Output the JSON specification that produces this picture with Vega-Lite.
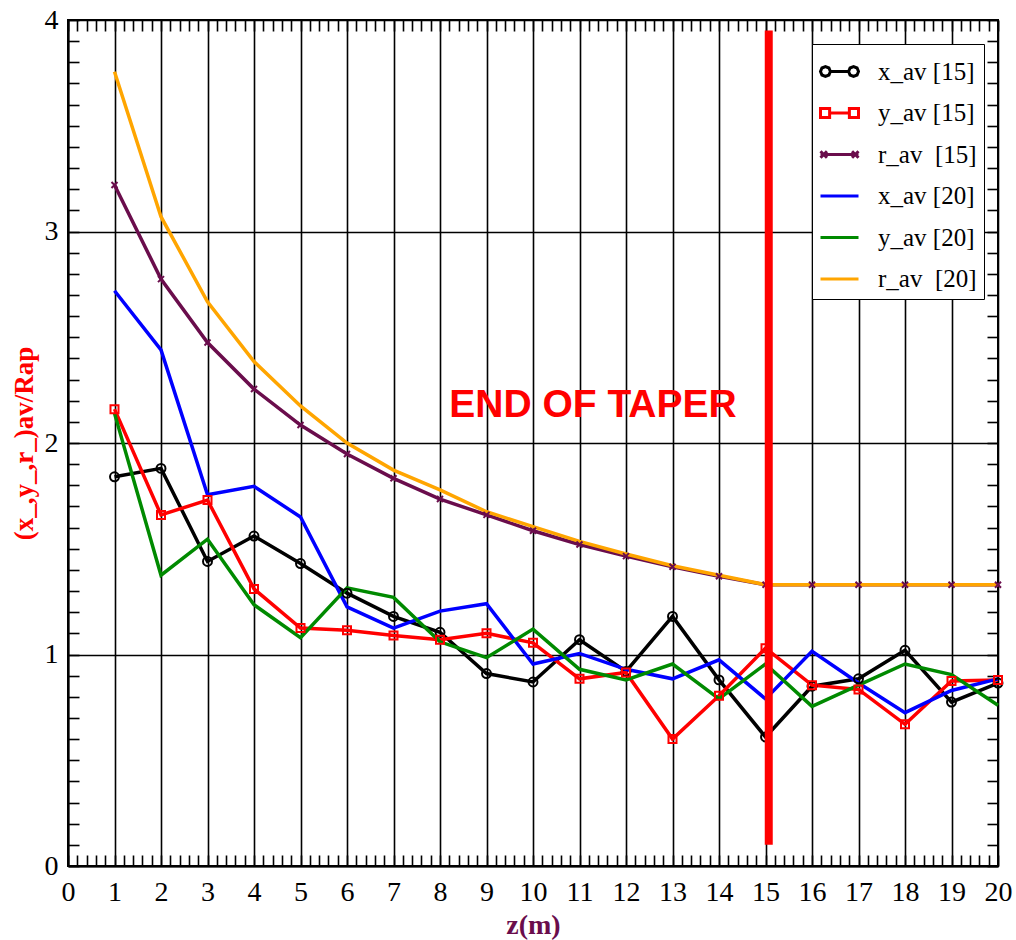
{
  "$schema": "https://vega.github.io/schema/vega-lite/v6.json",
  "width": 930,
  "height": 846,
  "autosize": {"type": "none"},
  "padding": {"left": 68, "top": 20, "right": 18, "bottom": 74},
  "background": "white",
  "config": {
    "view": {"stroke": "black", "strokeWidth": 2},
    "axis": {
      "labelFont": "Liberation Serif",
      "labelFontSize": 28,
      "labelColor": "black",
      "labelOverlap": false,
      "labelFlush": false,
      "tickColor": "black",
      "tickWidth": 1.6,
      "tickSize": -11,
      "domainColor": "black",
      "domainWidth": 2,
      "gridColor": "black",
      "gridWidth": 1.6
    },
    "legend": {
      "orient": "none",
      "legendX": 744,
      "legendY": 24,
      "fillColor": "white",
      "strokeColor": "black",
      "padding": 7,
      "symbolSize": 1444,
      "symbolStrokeWidth": 3,
      "symbolOpacity": 1,
      "labelOffset": 18,
      "rowPadding": 7.5,
      "labelFont": "Liberation Serif",
      "labelFontSize": 25,
      "labelColor": "black"
    }
  },
  "datasets": {
    "series": [
      {"z": 1, "v": 1.84, "s": "x_av [15]"},
      {"z": 2, "v": 1.88, "s": "x_av [15]"},
      {"z": 3, "v": 1.44, "s": "x_av [15]"},
      {"z": 4, "v": 1.56, "s": "x_av [15]"},
      {"z": 5, "v": 1.43, "s": "x_av [15]"},
      {"z": 6, "v": 1.29, "s": "x_av [15]"},
      {"z": 7, "v": 1.18, "s": "x_av [15]"},
      {"z": 8, "v": 1.105, "s": "x_av [15]"},
      {"z": 9, "v": 0.91, "s": "x_av [15]"},
      {"z": 10, "v": 0.87, "s": "x_av [15]"},
      {"z": 11, "v": 1.07, "s": "x_av [15]"},
      {"z": 12, "v": 0.92, "s": "x_av [15]"},
      {"z": 13, "v": 1.18, "s": "x_av [15]"},
      {"z": 14, "v": 0.88, "s": "x_av [15]"},
      {"z": 15, "v": 0.61, "s": "x_av [15]"},
      {"z": 16, "v": 0.85, "s": "x_av [15]"},
      {"z": 17, "v": 0.885, "s": "x_av [15]"},
      {"z": 18, "v": 1.02, "s": "x_av [15]"},
      {"z": 19, "v": 0.775, "s": "x_av [15]"},
      {"z": 20, "v": 0.865, "s": "x_av [15]"},

      {"z": 1, "v": 2.16, "s": "y_av [15]"},
      {"z": 2, "v": 1.66, "s": "y_av [15]"},
      {"z": 3, "v": 1.73, "s": "y_av [15]"},
      {"z": 4, "v": 1.31, "s": "y_av [15]"},
      {"z": 5, "v": 1.125, "s": "y_av [15]"},
      {"z": 6, "v": 1.115, "s": "y_av [15]"},
      {"z": 7, "v": 1.09, "s": "y_av [15]"},
      {"z": 8, "v": 1.07, "s": "y_av [15]"},
      {"z": 9, "v": 1.1, "s": "y_av [15]"},
      {"z": 10, "v": 1.055, "s": "y_av [15]"},
      {"z": 11, "v": 0.885, "s": "y_av [15]"},
      {"z": 12, "v": 0.915, "s": "y_av [15]"},
      {"z": 13, "v": 0.6, "s": "y_av [15]"},
      {"z": 14, "v": 0.805, "s": "y_av [15]"},
      {"z": 15, "v": 1.03, "s": "y_av [15]"},
      {"z": 16, "v": 0.855, "s": "y_av [15]"},
      {"z": 17, "v": 0.835, "s": "y_av [15]"},
      {"z": 18, "v": 0.67, "s": "y_av [15]"},
      {"z": 19, "v": 0.875, "s": "y_av [15]"},
      {"z": 20, "v": 0.88, "s": "y_av [15]"},

      {"z": 1, "v": 3.22, "s": "r_av\u00a0 [15]"},
      {"z": 2, "v": 2.775, "s": "r_av\u00a0 [15]"},
      {"z": 3, "v": 2.475, "s": "r_av\u00a0 [15]"},
      {"z": 4, "v": 2.255, "s": "r_av\u00a0 [15]"},
      {"z": 5, "v": 2.085, "s": "r_av\u00a0 [15]"},
      {"z": 6, "v": 1.948, "s": "r_av\u00a0 [15]"},
      {"z": 7, "v": 1.833, "s": "r_av\u00a0 [15]"},
      {"z": 8, "v": 1.735, "s": "r_av\u00a0 [15]"},
      {"z": 9, "v": 1.66, "s": "r_av\u00a0 [15]"},
      {"z": 10, "v": 1.585, "s": "r_av\u00a0 [15]"},
      {"z": 11, "v": 1.52, "s": "r_av\u00a0 [15]"},
      {"z": 12, "v": 1.465, "s": "r_av\u00a0 [15]"},
      {"z": 13, "v": 1.415, "s": "r_av\u00a0 [15]"},
      {"z": 14, "v": 1.37, "s": "r_av\u00a0 [15]"},
      {"z": 15, "v": 1.33, "s": "r_av\u00a0 [15]"},
      {"z": 16, "v": 1.33, "s": "r_av\u00a0 [15]"},
      {"z": 17, "v": 1.33, "s": "r_av\u00a0 [15]"},
      {"z": 18, "v": 1.33, "s": "r_av\u00a0 [15]"},
      {"z": 19, "v": 1.33, "s": "r_av\u00a0 [15]"},
      {"z": 20, "v": 1.33, "s": "r_av\u00a0 [15]"},

      {"z": 1, "v": 2.72, "s": "x_av [20]"},
      {"z": 2, "v": 2.44, "s": "x_av [20]"},
      {"z": 3, "v": 1.755, "s": "x_av [20]"},
      {"z": 4, "v": 1.795, "s": "x_av [20]"},
      {"z": 5, "v": 1.65, "s": "x_av [20]"},
      {"z": 6, "v": 1.225, "s": "x_av [20]"},
      {"z": 7, "v": 1.125, "s": "x_av [20]"},
      {"z": 8, "v": 1.205, "s": "x_av [20]"},
      {"z": 9, "v": 1.24, "s": "x_av [20]"},
      {"z": 10, "v": 0.955, "s": "x_av [20]"},
      {"z": 11, "v": 1.005, "s": "x_av [20]"},
      {"z": 12, "v": 0.93, "s": "x_av [20]"},
      {"z": 13, "v": 0.885, "s": "x_av [20]"},
      {"z": 14, "v": 0.975, "s": "x_av [20]"},
      {"z": 15, "v": 0.79, "s": "x_av [20]"},
      {"z": 16, "v": 1.015, "s": "x_av [20]"},
      {"z": 17, "v": 0.865, "s": "x_av [20]"},
      {"z": 18, "v": 0.725, "s": "x_av [20]"},
      {"z": 19, "v": 0.83, "s": "x_av [20]"},
      {"z": 20, "v": 0.885, "s": "x_av [20]"},

      {"z": 1, "v": 2.14, "s": "y_av [20]"},
      {"z": 2, "v": 1.375, "s": "y_av [20]"},
      {"z": 3, "v": 1.545, "s": "y_av [20]"},
      {"z": 4, "v": 1.235, "s": "y_av [20]"},
      {"z": 5, "v": 1.08, "s": "y_av [20]"},
      {"z": 6, "v": 1.315, "s": "y_av [20]"},
      {"z": 7, "v": 1.27, "s": "y_av [20]"},
      {"z": 8, "v": 1.06, "s": "y_av [20]"},
      {"z": 9, "v": 0.985, "s": "y_av [20]"},
      {"z": 10, "v": 1.12, "s": "y_av [20]"},
      {"z": 11, "v": 0.93, "s": "y_av [20]"},
      {"z": 12, "v": 0.88, "s": "y_av [20]"},
      {"z": 13, "v": 0.955, "s": "y_av [20]"},
      {"z": 14, "v": 0.79, "s": "y_av [20]"},
      {"z": 15, "v": 0.955, "s": "y_av [20]"},
      {"z": 16, "v": 0.755, "s": "y_av [20]"},
      {"z": 17, "v": 0.855, "s": "y_av [20]"},
      {"z": 18, "v": 0.955, "s": "y_av [20]"},
      {"z": 19, "v": 0.905, "s": "y_av [20]"},
      {"z": 20, "v": 0.76, "s": "y_av [20]"},

      {"z": 1, "v": 3.755, "s": "r_av\u00a0 [20]"},
      {"z": 2, "v": 3.07, "s": "r_av\u00a0 [20]"},
      {"z": 3, "v": 2.668, "s": "r_av\u00a0 [20]"},
      {"z": 4, "v": 2.385, "s": "r_av\u00a0 [20]"},
      {"z": 5, "v": 2.175, "s": "r_av\u00a0 [20]"},
      {"z": 6, "v": 2.0, "s": "r_av\u00a0 [20]"},
      {"z": 7, "v": 1.872, "s": "r_av\u00a0 [20]"},
      {"z": 8, "v": 1.778, "s": "r_av\u00a0 [20]"},
      {"z": 9, "v": 1.675, "s": "r_av\u00a0 [20]"},
      {"z": 10, "v": 1.605, "s": "r_av\u00a0 [20]"},
      {"z": 11, "v": 1.535, "s": "r_av\u00a0 [20]"},
      {"z": 12, "v": 1.475, "s": "r_av\u00a0 [20]"},
      {"z": 13, "v": 1.42, "s": "r_av\u00a0 [20]"},
      {"z": 14, "v": 1.375, "s": "r_av\u00a0 [20]"},
      {"z": 15, "v": 1.33, "s": "r_av\u00a0 [20]"},
      {"z": 16, "v": 1.33, "s": "r_av\u00a0 [20]"},
      {"z": 17, "v": 1.33, "s": "r_av\u00a0 [20]"},
      {"z": 18, "v": 1.33, "s": "r_av\u00a0 [20]"},
      {"z": 19, "v": 1.33, "s": "r_av\u00a0 [20]"},
      {"z": 20, "v": 1.33, "s": "r_av\u00a0 [20]"}
    ],
    "taper": [
      {"z": 15.07, "lo": 0.1, "hi": 3.95}
    ],
    "note": [
      {"z": 11.29, "v": 2.18, "label": "END OF TAPER"}
    ]
  },
  "resolve": {"axis": {"x": "independent", "y": "independent"}},
  "layer": [
    {
      "data": {"name": "series"},
      "mark": {"type": "line", "strokeWidth": 3.5},
      "encoding": {
        "x": {
          "field": "z", "type": "quantitative",
          "scale": {"domain": [0, 20], "nice": false, "zero": false},
          "axis": {
            "orient": "bottom",
            "tickCount": 100,
            "labelExpr": "datum.value % 1 === 0 ? format(datum.value, 'd') : ''",
            "labelPadding": 23,
            "grid": true,
            "gridOpacity": {"condition": {"test": "datum.value % 1 === 0", "value": 1}, "value": 0},
            "title": "z(m)",
            "titleFont": "Liberation Serif",
            "titleFontSize": 28,
            "titleFontWeight": "bold",
            "titleColor": "#6a0d4c",
            "titlePadding": 5
          }
        },
        "y": {
          "field": "v", "type": "quantitative",
          "scale": {"domain": [0, 4], "nice": false, "zero": false},
          "axis": {
            "orient": "left",
            "tickCount": 40,
            "labelExpr": "datum.value % 1 === 0 ? format(datum.value, 'd') : ''",
            "labelPadding": 21,
            "grid": true,
            "gridOpacity": {"condition": {"test": "datum.value % 1 === 0", "value": 1}, "value": 0},
            "title": "(x_,y_,r_)av/Rap",
            "titleFont": "Liberation Serif",
            "titleFontSize": 27,
            "titleFontWeight": "bold",
            "titleColor": "#ff0000",
            "titlePadding": 6
          }
        },
        "color": {
          "field": "s", "type": "nominal",
          "scale": {
            "domain": ["x_av [15]", "y_av [15]", "r_av\u00a0 [15]", "x_av [20]", "y_av [20]", "r_av\u00a0 [20]"],
            "range": ["#000000", "#ff0000", "#6a0d4c", "#0000ff", "#008a00", "#ffa500"]
          },
          "legend": {"title": null}
        }
      }
    },
    {
      "data": {"name": "series"},
      "transform": [{"filter": "false"}],
      "mark": {"type": "point", "filled": false},
      "encoding": {
        "x": {"field": "z", "type": "quantitative", "scale": {"domain": [0, 20]}, "axis": null},
        "y": {"field": "v", "type": "quantitative", "scale": {"domain": [0, 4]}, "axis": null},
        "color": {"field": "s", "type": "nominal", "legend": {"title": null}},
        "shape": {
          "field": "s", "type": "nominal",
          "scale": {
            "domain": ["x_av [15]", "y_av [15]", "r_av\u00a0 [15]", "x_av [20]", "y_av [20]", "r_av\u00a0 [20]"],
            "range": [
              "M-0.48,0H0.48M-0.48,0L-0.556,0.184L-0.74,0.26L-0.924,0.184L-1,0L-0.924,-0.184L-0.74,-0.26L-0.556,-0.184ZM1,0L0.924,0.184L0.74,0.26L0.556,0.184L0.48,0L0.556,-0.184L0.74,-0.26L0.924,-0.184Z",
              "M-0.52,0H0.52M-1,-0.24H-0.52V0.24H-1ZM0.52,-0.24H1V0.24H0.52Z",
              "M-1,0H1M-1,-0.17L-0.66,0.17M-1,0.17L-0.66,-0.17M0.66,-0.17L1,0.17M0.66,0.17L1,-0.17",
              "M-1,0H1",
              "M-1,0H1",
              "M-1,0H1"
            ]
          },
          "legend": {"title": null}
        }
      }
    },
    {
      "data": {"name": "series"},
      "transform": [{"filter": "datum.s === 'x_av [15]'"}],
      "mark": {"type": "point", "shape": "circle", "filled": false, "color": "#000000", "strokeWidth": 2, "size": 80, "opacity": 1},
      "encoding": {
        "x": {"field": "z", "type": "quantitative", "scale": {"domain": [0, 20]}, "axis": null},
        "y": {"field": "v", "type": "quantitative", "scale": {"domain": [0, 4]}, "axis": null}
      }
    },
    {
      "data": {"name": "series"},
      "transform": [{"filter": "datum.s === 'y_av [15]'"}],
      "mark": {"type": "point", "shape": "square", "filled": false, "color": "#ff0000", "strokeWidth": 2, "size": 64, "opacity": 1},
      "encoding": {
        "x": {"field": "z", "type": "quantitative", "scale": {"domain": [0, 20]}, "axis": null},
        "y": {"field": "v", "type": "quantitative", "scale": {"domain": [0, 4]}, "axis": null}
      }
    },
    {
      "data": {"name": "series"},
      "transform": [{"filter": "indexof(datum.s, 'r_av') === 0 && indexof(datum.s, '15') > 0"}],
      "mark": {"type": "point", "shape": "M-1,-1L1,1M-1,1L1,-1", "filled": false, "color": "#6a0d4c", "strokeWidth": 2, "size": 36, "opacity": 1},
      "encoding": {
        "x": {"field": "z", "type": "quantitative", "scale": {"domain": [0, 20]}, "axis": null},
        "y": {"field": "v", "type": "quantitative", "scale": {"domain": [0, 4]}, "axis": null}
      }
    },
    {
      "data": {"name": "taper"},
      "mark": {"type": "rule", "color": "#ff0000", "strokeWidth": 8},
      "encoding": {
        "x": {"field": "z", "type": "quantitative", "scale": {"domain": [0, 20]}, "axis": null},
        "y": {"field": "lo", "type": "quantitative", "scale": {"domain": [0, 4]}, "axis": null},
        "y2": {"field": "hi"}
      }
    },
    {
      "data": {"name": "note"},
      "mark": {"type": "text", "font": "Liberation Sans", "fontWeight": "bold", "fontSize": 39, "color": "#ff0000", "align": "center", "baseline": "middle"},
      "encoding": {
        "x": {
          "field": "z", "type": "quantitative", "scale": {"domain": [0, 20]},
          "axis": {"orient": "top", "tickCount": 100, "labels": false, "grid": false, "domain": false, "title": null}
        },
        "y": {
          "field": "v", "type": "quantitative", "scale": {"domain": [0, 4]},
          "axis": {"orient": "right", "tickCount": 40, "labels": false, "grid": false, "domain": false, "title": null}
        },
        "text": {"field": "label", "type": "nominal"}
      }
    }
  ]
}
